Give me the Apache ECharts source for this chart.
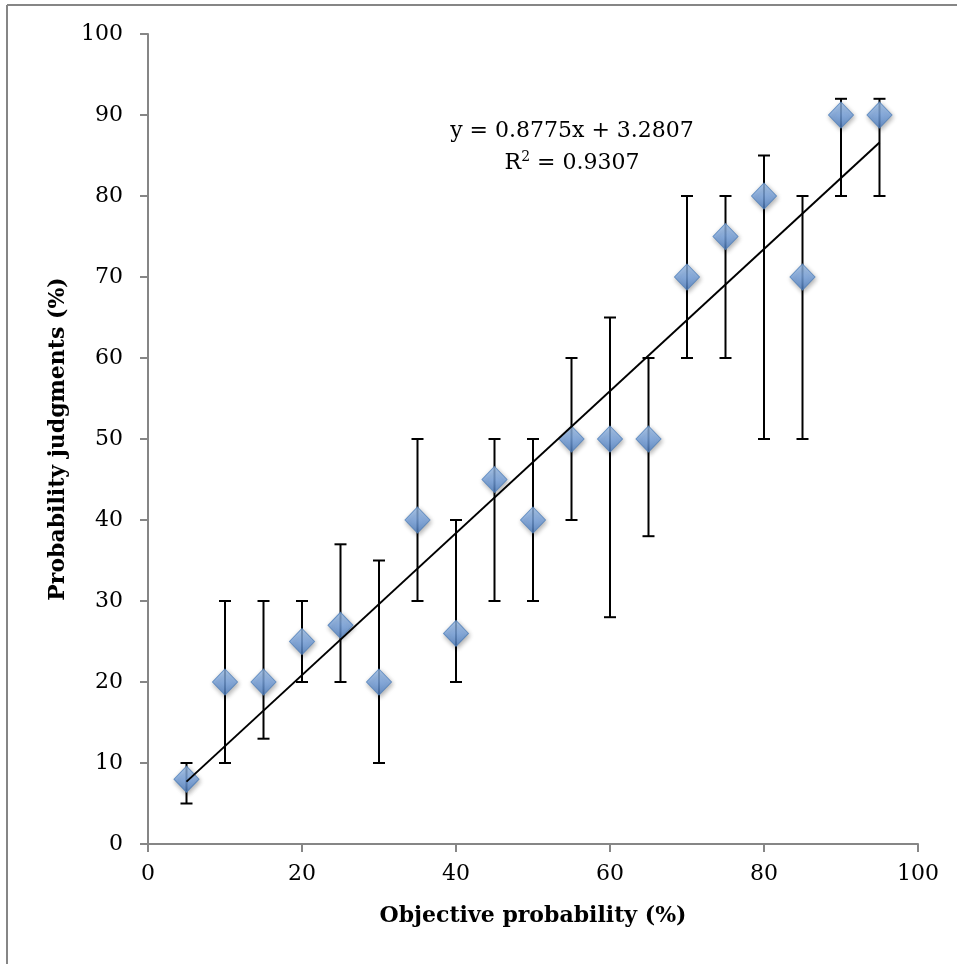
<!DOCTYPE html>
<html><head><meta charset="utf-8">
<script src="https://cdn.jsdelivr.net/npm/echarts@6/dist/echarts.min.js"></script>
<style>html,body{margin:0;padding:0;background:#fff}#c{width:957px;height:964px}</style>
</head><body><div id="c"></div>
<script>
const xValues = [5,10,15,20,25,30,35,40,45,50,55,60,65,70,75,80,85,90,95];
const yValues = [8,20,20,25,27,20,40,26,45,40,50,50,50,70,75,80,70,90,90];
const errLow  = [5,10,13,20,20,10,30,20,30,30,40,28,38,60,60,50,50,80,80];
const errHigh = [10,30,30,30,37,35,50,40,50,50,60,65,60,80,80,85,80,92,92];
const trendLine = [[5,7.7],[95,86.6]];
const xTicks = [0,20,40,60,80,100];
const yTicks = [0,10,20,30,40,50,60,70,80,90,100];

const font = 'DejaVu Serif';
const chart = echarts.init(document.getElementById('c'));
const pts = xValues.map((x,i)=>[x,yValues[i]]);
const errs = xValues.map((x,i)=>[x,errLow[i],errHigh[i]]);

chart.setOption({
  animation:false,
  grid:{left:148,right:39,top:34,bottom:120},
  xAxis:{type:'value',min:0,max:100,interval:20,
    name:'Objective probability (%)',nameLocation:'middle',nameGap:61,
    nameTextStyle:{fontFamily:font,fontWeight:'bold',fontSize:22,color:'#000'},
    axisLine:{lineStyle:{color:'#868686',width:2}},
    axisTick:{show:true,length:8,lineStyle:{color:'#868686',width:2}},
    axisLabel:{fontFamily:font,fontSize:22,color:'#000',margin:19},
    splitLine:{show:false}},
  yAxis:{type:'value',min:0,max:100,interval:10,
    name:'Probability judgments (%)',nameLocation:'middle',nameGap:79,
    nameTextStyle:{fontFamily:font,fontWeight:'bold',fontSize:22,color:'#000'},
    axisLine:{show:true,lineStyle:{color:'#868686',width:2}},
    axisTick:{show:true,length:8,lineStyle:{color:'#868686',width:2}},
    axisLabel:{fontFamily:font,fontSize:22,color:'#000',margin:25},
    splitLine:{show:false}},
  graphic:[
    {type:'line',shape:{x1:7,y1:5,x2:7,y2:964},style:{stroke:'#868686',lineWidth:2},silent:true},
    {type:'line',shape:{x1:7,y1:5,x2:957,y2:5},style:{stroke:'#868686',lineWidth:2},silent:true},
    {type:'text',x:572,y:131,style:{text:'y = 0.8775x + 3.2807',fontFamily:font,fontSize:22,fill:'#000',align:'center',verticalAlign:'middle'}},
    {type:'text',x:572,y:163,style:{text:'R{sup|2} = 0.9307',fontFamily:font,fontSize:22,fill:'#000',align:'center',verticalAlign:'middle',
      rich:{sup:{fontFamily:font,fontSize:14,verticalAlign:'top',lineHeight:26}}}}
  ],
  series:[
    {type:'custom',data:errs,z:2,
      renderItem:function(params,api){
        const x=api.value(0),lo=api.value(1),hi=api.value(2);
        const p1=api.coord([x,lo]),p2=api.coord([x,hi]);
        const w=6;
        const st={stroke:'#000',lineWidth:2};
        return {type:'group',children:[
          {type:'line',shape:{x1:p1[0],y1:p1[1],x2:p2[0],y2:p2[1]},style:st},
          {type:'line',shape:{x1:p1[0]-w,y1:p1[1],x2:p1[0]+w,y2:p1[1]},style:st},
          {type:'line',shape:{x1:p2[0]-w,y1:p2[1],x2:p2[0]+w,y2:p2[1]},style:st}
        ]};
      }},
    {type:'scatter',data:pts,symbol:'diamond',symbolSize:[25,26],z:3,
      itemStyle:{
        color:new echarts.graphic.LinearGradient(0,0,0,1,[{offset:0,color:'#a3c6f0'},{offset:0.5,color:'#7aa6e2'},{offset:1,color:'#4f80c4'}]),
        borderColor:'#4f7fba',borderWidth:1,
        shadowColor:'rgba(0,0,0,0.4)',shadowBlur:5,shadowOffsetX:1,shadowOffsetY:2}},
    {type:'line',data:trendLine,symbol:'none',z:4,lineStyle:{color:'#000',width:2}}
  ]
});
</script></body></html>
